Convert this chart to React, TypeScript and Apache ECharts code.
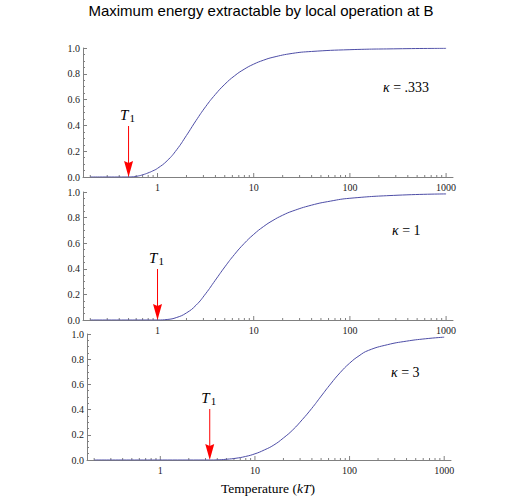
import React, { useEffect, useRef } from 'react';
import * as echarts from 'echarts';

const TITLE = 'Maximum energy extractable by local operation at B';
const X_TITLE_PRE = 'Temperature (';
const X_TITLE_IT = 'kT';
const X_TITLE_POST = ')';
const KAPPA_VALUES = ['.333', '1', '3'];
const T1_VALUES = [0.5, 1, 3.33];
const X_MIN = 0.168;
const X_MAX = 1180;
const X_TICKS = [
  0.2, 0.3, 0.4, 0.5, 0.6, 0.7, 0.8, 0.9,
  1, 2, 3, 4, 5, 6, 7, 8, 9,
  10, 20, 30, 40, 50, 60, 70, 80, 90,
  100, 200, 300, 400, 500, 600, 700, 800, 900, 1000,
];

const CURVE_1: [number, number][] = [
  [0.2, 0], [0.5, 0], [0.562, 0.002], [0.631, 0.008], [0.708, 0.018], [0.794, 0.031], [0.891, 0.047],
  [1, 0.067], [1.259, 0.126], [1.585, 0.212], [1.995, 0.321], [2.512, 0.437], [3.162, 0.545],
  [3.981, 0.639], [5.012, 0.719], [6.31, 0.784], [7.943, 0.835], [10, 0.875], [12.59, 0.905],
  [15.85, 0.928], [25.12, 0.958], [39.81, 0.973], [100, 0.987], [316.2, 0.994], [1000, 0.998],
];
const CURVE_2: [number, number][] = [
  [0.2, 0], [1, 0], [1.259, 0.004], [1.585, 0.02], [1.995, 0.055], [2.512, 0.115], [3.162, 0.205],
  [3.981, 0.31], [5.012, 0.415], [6.31, 0.512], [7.943, 0.597], [10, 0.669], [12.59, 0.729],
  [15.85, 0.778], [19.95, 0.818], [25.12, 0.85], [39.81, 0.897], [63.1, 0.929], [100, 0.951],
  [316.2, 0.975], [1000, 0.985],
];
const CURVE_3: [number, number][] = [
  [0.2, 0], [3.33, 0], [3.981, 0.001], [5.012, 0.006], [6.31, 0.014], [7.943, 0.028], [10, 0.049],
  [12.59, 0.08], [15.85, 0.119], [19.95, 0.174], [25.12, 0.239], [31.62, 0.32], [39.81, 0.409],
  [50.12, 0.507], [63.1, 0.604], [79.43, 0.693], [100, 0.768], [125.9, 0.827], [158.5, 0.87],
  [251.2, 0.915], [398.1, 0.943], [631, 0.962], [1000, 0.975],
];
const CURVES = [CURVE_1, CURVE_2, CURVE_3];

const SERIF = '"Liberation Serif", "Times New Roman", serif';
const SANS = '"Liberation Sans", Arial, sans-serif';
const AXIS_COLOR = '#808080';
const CURVE_COLOR = '#4d4da6';

const PANELS = [
  { left: 83, top: 48, width: 370, height: 129, kx: 383, ky: 87 },
  { left: 83, top: 192, width: 370, height: 128, kx: 392, ky: 230 },
  { left: 87, top: 334, width: 364, height: 126, kx: 391, ky: 372 },
];

function isPow10(v: number) {
  const l = Math.log10(v);
  return Math.abs(l - Math.round(l)) < 1e-6;
}

export default function App() {
  const ref = useRef<HTMLDivElement>(null);
  useEffect(() => {
    if (!ref.current) return;
    const chart = echarts.init(ref.current, undefined, { renderer: 'svg' });

    const grid = PANELS.map((p) => ({ left: p.left, top: p.top, width: p.width, height: p.height, containLabel: false }));
    const xAxis = PANELS.map((_, i) => ({
      type: 'log',
      logBase: 10,
      gridIndex: i,
      min: X_MIN,
      max: X_MAX,
      axisLine: { show: true, lineStyle: { color: AXIS_COLOR, width: 1 } },
      axisTick: { show: false },
      splitLine: { show: false },
      axisLabel: {
        show: true,
        showMinLabel: false,
        showMaxLabel: false,
        margin: 5,
        fontFamily: SERIF,
        fontSize: 10,
        color: '#222',
        formatter: (v: number) => (isPow10(v) && v >= 1 && v <= 1000 ? String(Math.round(v)) : ''),
      },
    }));
    const yAxis = PANELS.map((_, i) => ({
      type: 'value',
      gridIndex: i,
      min: 0,
      max: 1,
      interval: 0.2,
      axisLine: { show: true, lineStyle: { color: AXIS_COLOR, width: 1 } },
      axisTick: { show: true, inside: true, length: 4, lineStyle: { color: AXIS_COLOR } },
      minorTick: { show: true, splitNumber: 4, length: 2, lineStyle: { color: AXIS_COLOR } },
      splitLine: { show: false },
      minorSplitLine: { show: false },
      axisLabel: {
        margin: 3,
        fontFamily: SERIF,
        fontSize: 10,
        color: '#222',
        formatter: (v: number) => v.toFixed(1),
      },
    }));

    const series: any[] = [];
    PANELS.forEach((_, i) => {
      series.push({
        type: 'line',
        xAxisIndex: i,
        yAxisIndex: i,
        data: CURVES[i],
        showSymbol: false,
        smooth: 0.5,
        lineStyle: { color: CURVE_COLOR, width: 1 },
        z: 5,
        silent: true,
      });
      series.push({
        type: 'custom',
        xAxisIndex: i,
        yAxisIndex: i,
        data: X_TICKS.map((v) => [v, 0]),
        silent: true,
        z: 4,
        renderItem: (_p: any, api: any) => {
          const v = api.value(0);
          const pt = api.coord([v, 0]);
          const len = isPow10(v) ? 4 : 2;
          return {
            type: 'line',
            shape: { x1: pt[0], y1: pt[1], x2: pt[0], y2: pt[1] - len },
            style: { stroke: AXIS_COLOR, lineWidth: 1 },
          };
        },
      });
      series.push({
        type: 'custom',
        xAxisIndex: i,
        yAxisIndex: i,
        data: [[T1_VALUES[i], 0]],
        silent: true,
        z: 6,
        renderItem: (_p: any, api: any) => {
          const pt = api.coord([api.value(0), 0]);
          const x = pt[0];
          const y = pt[1];
          return {
            type: 'group',
            children: [
              {
                type: 'line',
                shape: { x1: x, y1: y - 51, x2: x, y2: y - 14 },
                style: { stroke: '#ff0000', lineWidth: 1 },
              },
              {
                type: 'polygon',
                shape: { points: [[x - 4.5, y - 16], [x, y - 14], [x + 4.5, y - 16], [x, y]] },
                style: { fill: '#ff0000' },
              },
              {
                type: 'text',
                style: {
                  text: 'T', x: x - 8.5, y: y - 62, align: 'left', verticalAlign: 'middle',
                  font: `italic 15px ${SERIF}`, fill: '#000',
                },
              },
              {
                type: 'text',
                style: {
                  text: '1', x: x + 1, y: y - 59, align: 'left', verticalAlign: 'middle',
                  font: `11px ${SERIF}`, fill: '#000',
                },
              },
            ],
          };
        },
      });
    });

    const graphic: any[] = [
      {
        type: 'text',
        style: {
          text: TITLE, x: 261, y: 10, align: 'center', verticalAlign: 'middle',
          font: `15px ${SANS}`, fill: '#000',
        },
      },
      {
        type: 'text',
        style: {
          text: `{n|${X_TITLE_PRE}}{i|${X_TITLE_IT}}{n|${X_TITLE_POST}}`,
          x: 268, y: 488, align: 'center', verticalAlign: 'middle',
          rich: {
            n: { fontFamily: SERIF, fontSize: 13.5, color: '#000' },
            i: { fontFamily: SERIF, fontSize: 13.5, fontStyle: 'italic', color: '#000' },
          },
        },
      },
      ...PANELS.map((p, i) => ({
        type: 'text',
        style: {
          text: `{k|κ}{n| = ${KAPPA_VALUES[i]}}`,
          x: p.kx, y: p.ky, align: 'left', verticalAlign: 'middle',
          rich: {
            k: { fontFamily: SERIF, fontSize: 14, fontStyle: 'italic', color: '#000' },
            n: { fontFamily: SERIF, fontSize: 14, color: '#000' },
          },
        },
      })),
    ];

    chart.setOption({
      animation: false,
      backgroundColor: '#fff',
      grid,
      xAxis,
      yAxis,
      series,
      graphic,
    });
    return () => chart.dispose();
  }, []);
  return <div ref={ref} style={{ position: 'fixed', left: 0, top: 0, width: 525, height: 497 }} />;
}
